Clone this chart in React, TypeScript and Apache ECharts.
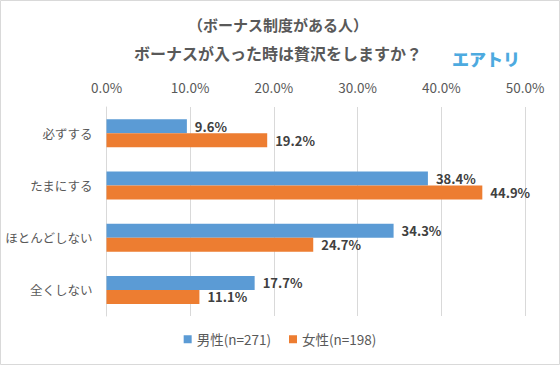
import React, { useEffect, useRef } from "react";
import * as echarts from "echarts";

const categories = ["必ずする", "たまにする", "ほとんどしない", "全くしない"];
const maleValues = [9.6, 38.4, 34.3, 17.7];
const femaleValues = [19.2, 44.9, 24.7, 11.1];
const seriesNames = ["男性(n=271)", "女性(n=198)"];
const titleLines = ["（ボーナス制度がある人）", "ボーナスが入った時は贅沢をしますか？"];
const logoText = "エアトリ";

const FONT = "'Noto Sans CJK JP', 'Noto Sans', sans-serif";

export default function App() {
  const ref = useRef<HTMLDivElement>(null);
  useEffect(() => {
    if (!ref.current) return;
    const chart = echarts.init(ref.current, undefined, { renderer: "svg" });
    const labelCfg = {
      show: true,
      position: "right",
      distance: 8,
      formatter: (p: any) => p.value.toFixed(1) + "%",
      fontFamily: FONT,
      fontSize: 13,
      fontWeight: "bold",
      color: "#404040",
    };
    chart.setOption({
      animation: false,
      backgroundColor: "#ffffff",
      textStyle: { fontFamily: FONT },
      graphic: [
        {
          type: "rect",
          shape: { x: 0.5, y: 0.5, width: 559, height: 364 },
          style: { fill: "none", stroke: "#D9D9D9", lineWidth: 1 },
          silent: true,
        },
        {
          type: "text",
          x: 278,
          y: 24,
          style: {
            text: titleLines[0],
            fontFamily: FONT,
            fontSize: 15,
            fontWeight: "bold",
            fill: "#595959",
            align: "center",
            verticalAlign: "middle",
          },
        },
        {
          type: "text",
          x: 278,
          y: 53,
          style: {
            text: titleLines[1],
            fontFamily: FONT,
            fontSize: 16,
            fontWeight: "bold",
            fill: "#595959",
            align: "center",
            verticalAlign: "middle",
          },
        },
        {
          type: "text",
          x: 486,
          y: 58,
          style: {
            text: logoText,
            fontFamily: FONT,
            fontSize: 17,
            fontWeight: 900,
            fill: "#4DAADF",
            align: "center",
            verticalAlign: "middle",
          },
        },
      ],
      legend: {
        bottom: 14,
        left: "center",
        itemWidth: 8,
        itemHeight: 8,
        itemGap: 18,
        icon: "rect",
        textStyle: { fontFamily: FONT, fontSize: 13.5, color: "#595959" },
        data: seriesNames,
      },
      grid: { left: 106.5, right: 35, top: 107, bottom: 49, containLabel: false },
      xAxis: {
        type: "value",
        position: "top",
        min: 0,
        max: 50,
        interval: 10,
        axisLine: { show: false },
        axisTick: { show: false },
        axisLabel: {
          formatter: (v: number) => v.toFixed(1) + "%",
          fontFamily: FONT,
          fontSize: 13.5,
          color: "#595959",
          margin: 13,
        },
        splitLine: { show: true, lineStyle: { color: "#D9D9D9", width: 1 } },
      },
      yAxis: {
        type: "category",
        data: categories,
        inverse: true,
        axisLine: { show: true, lineStyle: { color: "#D9D9D9" } },
        axisTick: { show: false },
        axisLabel: {
          fontFamily: FONT,
          fontSize: 12.5,
          color: "#595959",
          margin: 14,
        },
      },
      series: [
        {
          name: seriesNames[0],
          type: "bar",
          data: maleValues,
          barWidth: 14,
          barGap: "0%",
          itemStyle: { color: "#5B9BD5" },
          label: labelCfg,
        },
        {
          name: seriesNames[1],
          type: "bar",
          data: femaleValues,
          barWidth: 14,
          barGap: "0%",
          itemStyle: { color: "#ED7D31" },
          label: labelCfg,
        },
      ],
    });
    return () => chart.dispose();
  }, []);
  return (
    <div
      ref={ref}
      style={{ position: "fixed", left: 0, top: 0, width: 560, height: 365 }}
    />
  );
}
